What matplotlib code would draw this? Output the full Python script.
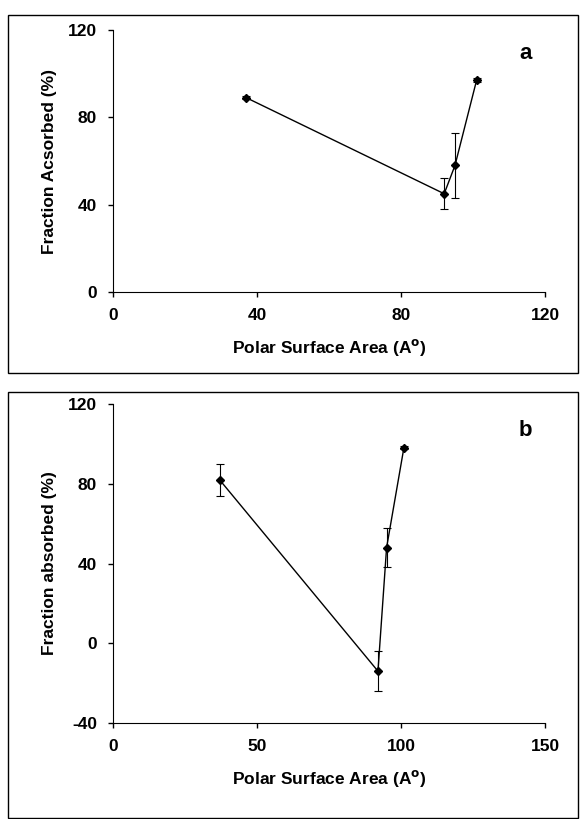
import matplotlib
matplotlib.use("Agg")
import matplotlib.pyplot as plt
from matplotlib.patches import Rectangle

psa = [37, 92, 95, 101]
fa_a = [89, 45, 58, 97]
err_a = [0.8, 7, 15, 0.8]
fa_b = [82, -14, 48, 98]
err_b = [8, 10, 10, 0.8]

W, H = 580, 819
fig = plt.figure(figsize=(W/100, H/100), dpi=100)
plt.rcParams['font.family'] = 'Liberation Sans'
plt.rcParams['axes.unicode_minus'] = False

def frame(x0, y0, x1, y1):
    fig.patches.append(Rectangle((x0/W, 1-y1/H), (x1-x0)/W, (y1-y0)/H,
                                 transform=fig.transFigure, fill=False, lw=1, color='black'))

def ax_at(l, t, r, b):
    return fig.add_axes([l/W, 1-b/H, (r-l)/W, (b-t)/H])

frame(8, 15, 578, 373)
frame(8, 392, 578, 818)

def panel(ax, y, e, xlim, xt, ylim, yt, ylab, letter):
    ax.errorbar(psa, y, yerr=e, fmt='-D', color='black', ms=4, lw=1,
                elinewidth=0.8, capsize=3, capthick=0.8)
    ax.set_xlim(*xlim); ax.set_ylim(*ylim)
    ax.set_xticks(xt); ax.set_yticks(yt)
    for s in ['top', 'right']:
        ax.spines[s].set_visible(False)
    ax.tick_params(direction='out', labelsize=12.5, width=1, pad=8)
    for lab in ax.get_xticklabels() + ax.get_yticklabels():
        lab.set_fontweight('bold')
    ax.set_xlabel('Polar Surface Area (A$^\\mathbf{o}$)', fontsize=12.5, fontweight='bold', labelpad=10)
    ax.set_ylabel(ylab, fontsize=12.5, fontweight='bold', labelpad=8)
    ax.text(0.97, 0.95, letter, transform=ax.transAxes, ha='right', va='top',
            fontsize=16, fontweight='bold')

ax1 = ax_at(113, 30, 545, 292)
panel(ax1, fa_a, err_a, (0, 120), [0, 40, 80, 120], (0, 120), [0, 40, 80, 120],
      'Fraction Acsorbed (%)', 'a')
ax2 = ax_at(113, 404, 545, 723)
panel(ax2, fa_b, err_b, (0, 150), [0, 50, 100, 150], (-40, 120), [-40, 0, 40, 80, 120],
      'Fraction absorbed (%)', 'b')

fig.savefig('out.png', dpi=100)
